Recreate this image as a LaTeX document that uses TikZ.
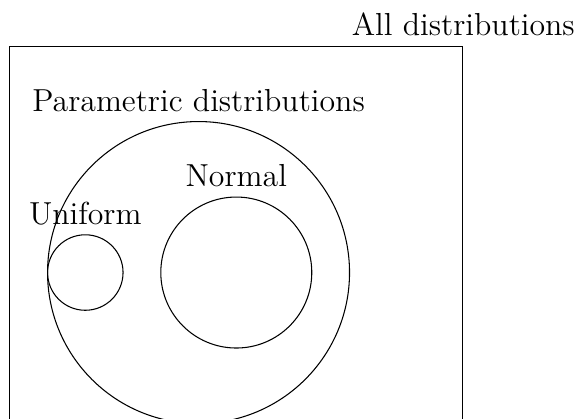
\documentclass[tikz,border=0pt]{standalone}
\usetikzlibrary{positioning}
\begin{document}
\begin{tikzpicture}[
    font=\fontsize{12}{14.5}\selectfont,
    setbox/.style={circle, draw=black, inner sep=0pt},
    frame/.style={rectangle, draw=black, inner sep=0pt}
]
\useasboundingbox (-2.63,-1.93) rectangle (5.0,3.61);
\clip (-2.63,-1.93) rectangle (5.0,3.61);

% Sets
\node (all) [frame, minimum width=6cm, minimum height=6cm] at (0.5,0) {};
\node (param) [setbox, minimum size=4cm] at (0,0) {};
\node (uniform) [setbox, minimum size=1cm] at (-1.5,0) {};
\node (normal) [setbox, minimum size=2cm] at (0.5,0) {};

% Labels
\node (alltag) [above=0pt of all.north east] {All distributions};
\node (paramtag) [above=0pt of param.north] {Parametric distributions};
\node (uniformtag) [above=0pt of uniform.north] {Uniform};
\node (normaltag) [above=0pt of normal.north] {Normal};

\end{tikzpicture}
\end{document}
